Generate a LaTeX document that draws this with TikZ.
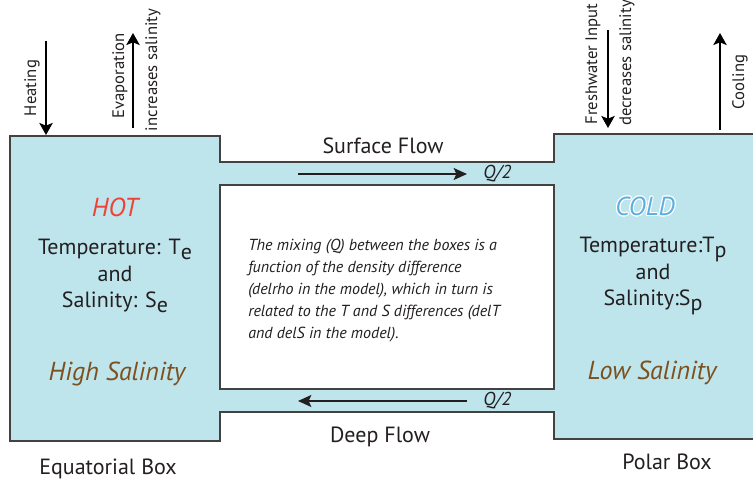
\documentclass[tikz,border=0pt]{standalone}
\usepackage{fontspec}
\setmainfont{PT Sans}
\usepackage{contour}
\usetikzlibrary{arrows.meta, positioning}
\definecolor{sea}{RGB}{190,228,236}
\definecolor{ink}{RGB}{35,31,32}
\definecolor{hotred}{RGB}{239,65,54}
\definecolor{coldblue}{RGB}{90,175,225}
\definecolor{salt}{RGB}{125,80,30}
\contourlength{0.8pt}
\tikzset{
  basin/.style ={fill=sea, draw=ink!85, line width=1.1pt},
  core/.style  ={fill=white, draw=ink!85, line width=1.1pt},
  arr/.style   ={-{Stealth[length=9pt, width=10pt, inset=2pt]}, line width=1.5pt, black},
  flow/.style  ={-{Stealth[length=10pt, width=9pt, inset=2pt]}, line width=0.9pt, ink},
  lbl/.style   ={font=\fontsize{12.5}{14}\selectfont, text=ink, inner sep=1pt},
  side/.style  ={lbl, rotate=90},
  txt/.style   ={font=\fontsize{16.5}{20}\selectfont, text=ink, align=center, inner sep=0pt},
  tag/.style   ={font=\fontsize{19.5}{22}\selectfont\itshape, inner sep=0pt},
  qlbl/.style  ={font=\fontsize{14}{16}\selectfont\itshape, text=ink, inner sep=0pt},
  note/.style  ={font=\fontsize{12}{16.5}\selectfont\itshape, text=ink, align=left, inner sep=0pt},
}
\newcommand{\lowsub}[1]{\raisebox{-0.45ex}{#1}}

\begin{document}
\begin{tikzpicture}[x=0.75pt, y=-0.75pt]
  \useasboundingbox (0,0) rectangle (753,484);

  % boxes and the two channels
  \draw[basin] (10,136) -- (220,136) -- (220,162) -- (554,162) -- (554,134)
               -- (760,134) -- (760,439) -- (554,439) -- (554,412)
               -- (220,412) -- (220,441) -- (10,441) -- cycle;
  \draw[core] (220,185) rectangle (554,389);

  % surface and deep flow
  \coordinate (s1) at (298,174);
  \coordinate (s2) at (467,174);
  \coordinate (d1) at (467,401);
  \coordinate (d2) at (298,401);
  \draw[flow] (s1) -- (s2);
  \draw[flow] (d1) -- (d2);
  \node[qlbl, right=12pt of s2] (qs) {Q/2};
  \node[qlbl, right=12pt of d1] (qd) {Q/2};
  \node[txt] (surf) at (383,146) {Surface Flow};
  \node[txt] (deep) at (380,437) {Deep Flow};

  % forcing at the surface
  \coordinate (heatA) at (46,41);
  \coordinate (heatB) at (46,135);
  \coordinate (evapA) at (133,128);
  \coordinate (evapB) at (133,33);
  \coordinate (freshA) at (608,30);
  \coordinate (freshB) at (608,128);
  \coordinate (coolA) at (720,130);
  \coordinate (coolB) at (720,33);
  \draw[arr] (heatA) -- (heatB);
  \draw[arr] (evapA) -- (evapB);
  \draw[arr] (freshA) -- (freshB);
  \draw[arr] (coolA) -- (coolB);
  \node[side] (heat)      at (32,88)  {Heating};
  \node[side] (evap)      at (120,76) {Evaporation};
  \node[side] (evapNote)  at (153,70) {increases salinity};
  \node[side] (fresh)     at (593,64) {Freshwater Input};
  \node[side] (freshNote) at (627,63) {decreases salinity};
  \node[side] (cool)      at (740,82) {Cooling};

  % equatorial box
  \node[tag, text=hotred] (hot) at (115,207) {HOT};
  \node[txt] (eqState) at (115,276) {Temperature: T\lowsub{e}\\and\\Salinity: S\lowsub{e}};
  \node[tag, text=salt] (high) at (117,374) {High Salinity};
  \node[txt] (eqBox) at (108,469) {Equatorial Box};

  % polar box
  \node[tag, text=coldblue] (cold) at (645,207) {\contour{white}{COLD}};
  \node[txt] (poState) at (653,276) {Temperature:T\lowsub{p}\\and\\Salinity:S\lowsub{p}};
  \node[tag, text=salt] (low) at (652,373) {Low Salinity};
  \node[txt] (poBox) at (667,462) {Polar Box};

  % mixing note
  \node[note, anchor=west] (mix) at (248,291)
    {The mixing (Q) between the boxes is a\\
     function of the density difference\\
     (delrho in the model), which in turn is\\
     related to the T and S differences (delT\\
     and delS in the model).};
\end{tikzpicture}
\end{document}
